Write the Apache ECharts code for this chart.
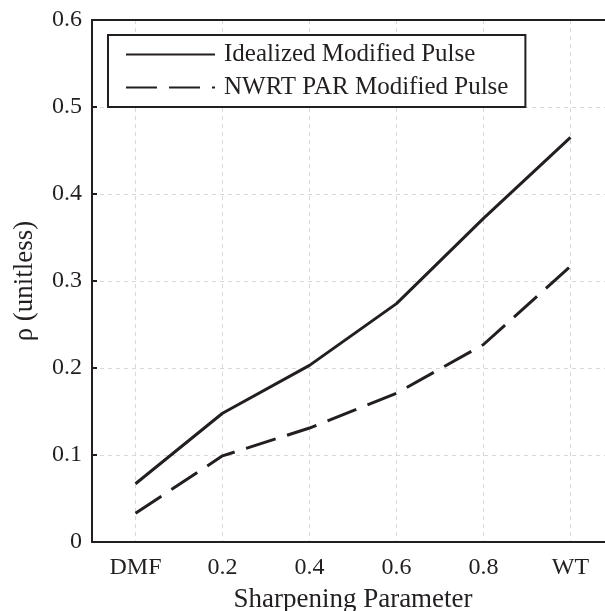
<!DOCTYPE html>
<html>
<head>
<meta charset="utf-8">
<script src="https://cdn.jsdelivr.net/npm/echarts@6/dist/echarts.min.js"></script>
<style>
html,body{margin:0;padding:0;background:#fff;}
#chart{width:605px;height:611px;}
</style>
</head>
<body>
<div id="chart"></div>
<script>
const categories = ['DMF', '0.2', '0.4', '0.6', '0.8', 'WT'];
const idealizedValues = [0.067, 0.148, 0.203, 0.274, 0.372, 0.465];
const nwrtValues = [0.033, 0.099, 0.131, 0.171, 0.227, 0.317];
const seriesNames = ['Idealized Modified Pulse', 'NWRT PAR Modified Pulse'];
const xAxisTitle = 'Sharpening Parameter';
const yAxisTitle = 'ρ (unitless)';

const ink = '#231f20';
const font = 'Liberation Serif';
const chart = echarts.init(document.getElementById('chart'), null, {renderer: 'canvas'});
chart.setOption({
  animation: false,
  backgroundColor: '#fff',
  grid: {left: 92, top: 20, width: 522, height: 522, containLabel: false, outerBoundsMode: 'none'},
  legend: {
    orient: 'vertical',
    left: 108, top: 35,
    data: seriesNames,
    itemWidth: 89, itemHeight: 14, itemGap: 8,
    padding: [7, 17, 7, 17],
    borderColor: ink, borderWidth: 2, backgroundColor: '#fff',
    itemStyle: {opacity: 0},
    textStyle: {fontFamily: font, fontSize: 25, color: ink, padding: [0, 0, 0, 4]}
  },
  xAxis: [{
    type: 'category', data: categories, boundaryGap: true,
    name: xAxisTitle, nameLocation: 'middle', nameGap: 44,
    nameTextStyle: {fontFamily: font, fontSize: 27, color: ink},
    axisLine: {lineStyle: {color: ink, width: 2}},
    axisTick: {inside: true, length: 5, alignWithLabel: true, lineStyle: {color: ink, width: 2}},
    axisLabel: {fontFamily: font, fontSize: 24, color: ink, margin: 14},
    splitLine: {show: true, alignWithLabel: true, lineStyle: {color: '#d8d8d8', type: [4, 4], width: 1}}
  }, {
    type: 'category', data: categories, boundaryGap: true, position: 'top',
    axisLine: {lineStyle: {color: ink, width: 2}},
    axisTick: {inside: true, length: 5, alignWithLabel: true, lineStyle: {color: ink, width: 2}},
    axisLabel: {show: false}, splitLine: {show: false}
  }],
  yAxis: {
    type: 'value', min: 0, max: 0.6, interval: 0.1,
    name: yAxisTitle, nameLocation: 'middle', nameGap: 54,
    nameTextStyle: {fontFamily: font, fontSize: 27, color: ink},
    axisLine: {show: true, lineStyle: {color: ink, width: 2}},
    axisTick: {show: true, inside: true, length: 5, lineStyle: {color: ink, width: 2}},
    axisLabel: {fontFamily: font, fontSize: 24, color: ink, margin: 10},
    splitLine: {show: true, lineStyle: {color: '#d8d8d8', type: [4, 4], width: 1}}
  },
  series: [{
    name: seriesNames[0], type: 'line', data: idealizedValues,
    symbol: 'none', smooth: false,
    lineStyle: {color: ink, width: 3, type: 'solid'},
    itemStyle: {color: ink}
  }, {
    name: seriesNames[1], type: 'line', data: nwrtValues,
    symbol: 'none', smooth: false,
    lineStyle: {color: ink, width: 3, type: [31, 12]},
    itemStyle: {color: ink}
  }]
});
</script>
</body>
</html>
